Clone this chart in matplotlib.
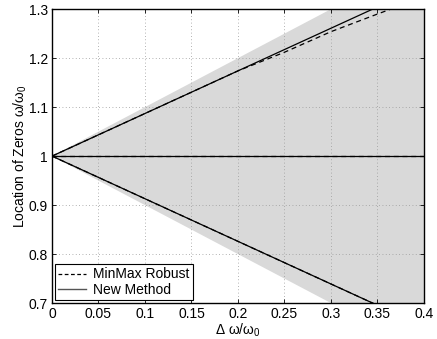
import numpy as np
import matplotlib
matplotlib.use("Agg")
import matplotlib.pyplot as plt

plt.rcParams.update({"font.family": ["Liberation Sans", "DejaVu Sans"], "font.size": 10,
                     "mathtext.fontset": "custom", "mathtext.rm": "Liberation Sans",
                     "mathtext.it": "Liberation Sans"})

# frequency spread and zero locations
dw = [0.0, 0.05, 0.1, 0.15, 0.2, 0.25, 0.3, 0.35, 0.4]
band_hi = [1.0, 1.05, 1.10, 1.15, 1.20, 1.25, 1.30, 1.35, 1.40]
band_lo = [1.0, 0.95, 0.90, 0.85, 0.80, 0.75, 0.70, 0.65, 0.60]
new_hi = [1.0, 1.0435, 1.087, 1.1305, 1.174, 1.2175, 1.261, 1.3045, 1.348]
new_mid = [1.0, 1.0, 1.0, 1.0, 1.0, 1.0, 1.0, 1.0, 1.0]
new_lo = [1.0, 0.9565, 0.913, 0.8695, 0.826, 0.7825, 0.739, 0.6955, 0.652]
mm_hi = [1.0, 1.0435, 1.087, 1.1305, 1.174, 1.212, 1.254, 1.29, 1.325]
mm_mid = [1.0, 1.0, 1.0, 1.0, 1.0, 1.0, 1.0, 1.0, 1.0]
mm_lo = [1.0, 0.9565, 0.913, 0.8695, 0.826, 0.7825, 0.739, 0.6955, 0.652]

xticks = [0, 0.05, 0.1, 0.15, 0.2, 0.25, 0.3, 0.35, 0.4]
xticklabels = ["0", "0.05", "0.1", "0.15", "0.2", "0.25", "0.3", "0.35", "0.4"]
yticks = [0.7, 0.8, 0.9, 1.0, 1.1, 1.2, 1.3]
yticklabels = ["0.7", "0.8", "0.9", "1", "1.1", "1.2", "1.3"]

fig = plt.figure(figsize=(4.37, 3.39), dpi=100)
ax = fig.add_axes([0.119, 0.106, 0.851, 0.867])

ax.fill_between(dw, band_lo, band_hi, color="#d9d9d9", lw=0, zorder=0.5)
for y in (mm_hi, mm_mid, mm_lo):
    ax.plot(dw, y, color="k", ls=(0, (4, 3)), lw=0.9, zorder=2)
for y in (new_hi, new_mid, new_lo):
    ax.plot(dw, y, color="k", ls="-", lw=0.9, zorder=2.1)

ax.set_xlim(0, 0.4)
ax.set_ylim(0.7, 1.3)
ax.set_xticks(xticks, xticklabels)
ax.set_yticks(yticks, yticklabels)
ax.tick_params(direction="in", top=True, right=True, length=3, width=0.6, pad=3)
ax.set_axisbelow("line")
ax.grid(True, ls=(0, (1, 3)), color="#999999", lw=0.6)
for s in ax.spines.values():
    s.set_linewidth(1.0)

ax.set_xlabel("Δ ω/ω$_0$", labelpad=0)
ax.set_ylabel("Location of Zeros ω/ω$_0$", labelpad=0)

h1, = ax.plot([], [], color="k", ls=(0, (3, 2)), lw=0.9)
h2, = ax.plot([], [], color="#555555", ls="-", lw=1.0)
leg = ax.legend([h1, h2], ["MinMax Robust", "New Method"], loc="lower left",
                fancybox=False, framealpha=1, edgecolor="k", handlelength=2.0,
                borderpad=0.25, labelspacing=0.1, handletextpad=0.5,
                borderaxespad=0.2, fontsize=10)
leg.get_frame().set_linewidth(0.8)

fig.savefig("out.png", dpi=100)
